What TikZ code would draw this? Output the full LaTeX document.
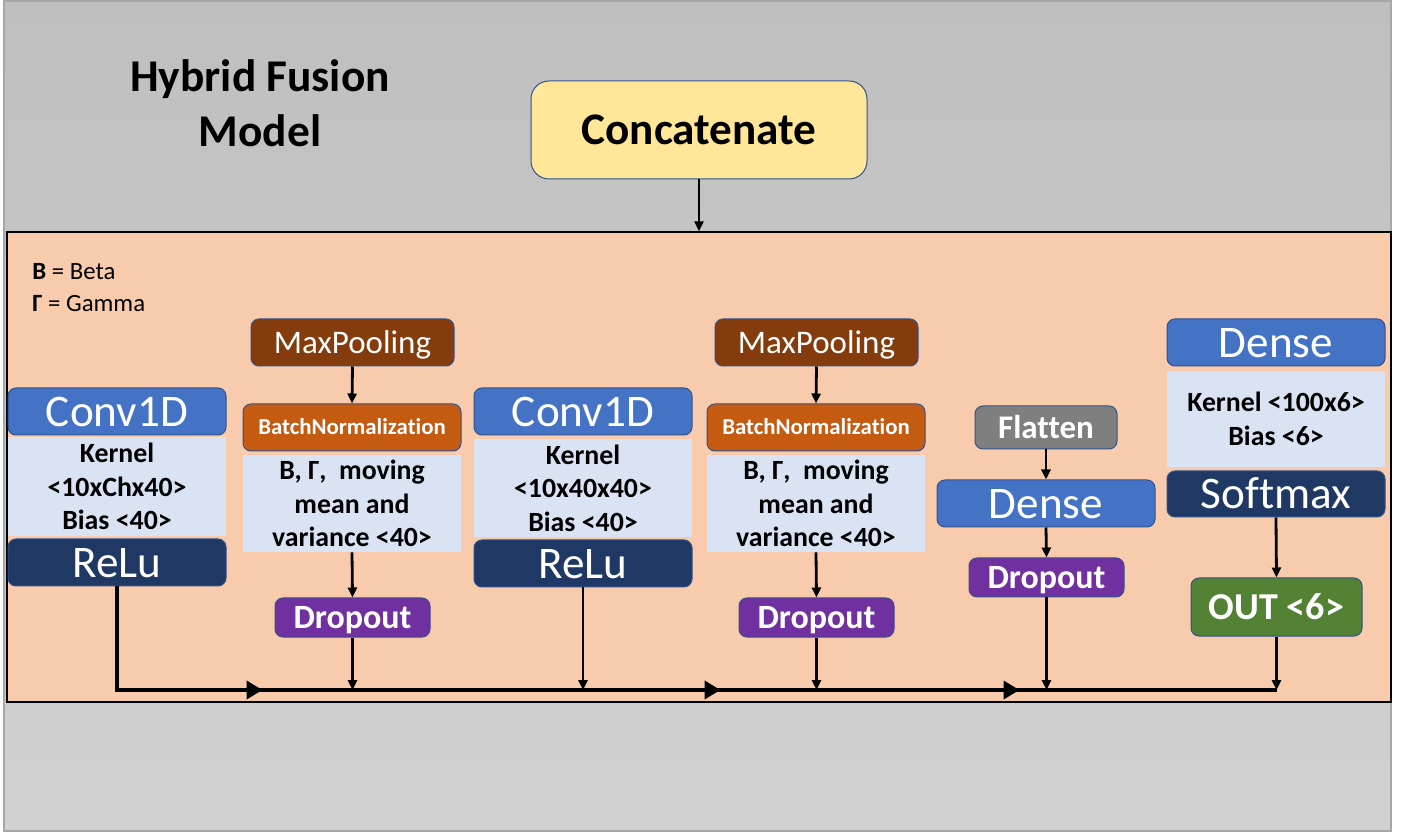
\documentclass[tikz,border=0pt]{standalone}
\usepackage{fontspec}
\setmainfont{Carlito}[Ligatures=NoCommon]
\usetikzlibrary{arrows.meta,decorations.markings}

\definecolor{bgtop}{HTML}{BFBFBF}
\definecolor{bgbot}{HTML}{D1D1D1}
\definecolor{bgedge}{HTML}{A6A6A6}
\definecolor{peach}{HTML}{F8CBAD}
\definecolor{convblue}{HTML}{4472C4}
\definecolor{navy}{HTML}{203864}
\definecolor{brown}{HTML}{843C0C}
\definecolor{rust}{HTML}{C55A11}
\definecolor{paramfill}{HTML}{DAE3F3}
\definecolor{violet}{HTML}{7030A0}
\definecolor{slate}{HTML}{7F7F7F}
\definecolor{leaf}{HTML}{548235}
\definecolor{butter}{HTML}{FFE699}
\definecolor{edgeblue}{HTML}{2F528F}

\begin{document}
\begin{tikzpicture}[x=0.5pt,y=-0.5pt,
  layer/.style={draw=edgeblue, line width=0.5pt, rounded corners=4pt,
    text=white, inner sep=0pt, align=center, text depth=0pt},
  wide/.style={layer, minimum width=109pt, minimum height=23.5pt,
    font=\fontsize{22.6}{24}\selectfont, text height=14.6pt},
  params/.style={fill=paramfill, inner sep=0pt, align=center, minimum width=109pt,
    font=\fontsize{13.9}{16.8}\selectfont\bfseries},
  drop/.style={layer, fill=violet, minimum width=77.5pt, minimum height=19.5pt,
    font=\fontsize{17}{18}\selectfont\bfseries, text height=11pt},
  pool/.style={layer, fill=brown, minimum width=101.5pt, minimum height=23.5pt,
    font=\fontsize{16.5}{18}\selectfont, text height=10.6pt},
  norm/.style={layer, fill=rust, minimum width=109pt, minimum height=23.5pt,
    font=\fontsize{11.4}{13}\selectfont\bfseries, text height=7.3pt},
  flow/.style={line width=1.4pt, -{Triangle[length=5pt,width=4.5pt]}},
  % thick collecting line with three direction marks along it
  bus/.style={line width=2pt, postaction={decorate}, decoration={markings,
    mark=at position 124.5pt with {\arrow{Triangle[length=8pt,width=9pt]}},
    mark=at position 353.5pt with {\arrow{Triangle[length=8pt,width=9pt]}},
    mark=at position 503pt with {\arrow{Triangle[length=8pt,width=9pt]}}}}
]
\useasboundingbox (0,0) rectangle (1405,834);

% backdrop and stage panel
\shade[top color=bgtop, bottom color=bgbot] (4,1) rectangle (1391,831);
\draw[bgedge, line width=0.8pt] (4,1) rectangle (1391,831);
\node[draw=black, line width=0.7pt, fill=peach, minimum width=692pt,
  minimum height=235pt, inner sep=0pt] (stage) at (699,467) {};

% title and input
\node[font=\fontsize{22.7}{27.5}\selectfont\bfseries, align=center] (title)
  at (260,103) {Hybrid Fusion\\Model};
\node[draw=edgeblue, line width=0.5pt, fill=butter, rounded corners=9pt,
  minimum width=168pt, minimum height=49pt, inner sep=0pt,
  text height=14.6pt, text depth=0pt,
  font=\fontsize{22.6}{24}\selectfont\bfseries] (concat) at (699,130) {Concatenate};
\draw[flow] (concat.south) -- (concat.south |- stage.north);

% legend
\node[anchor=west, align=left, inner sep=0pt, font=\fontsize{12.4}{16}\selectfont]
  (legend) at (32,288) {\textbf{B} = Beta\\\textbf{Γ} = Gamma};

% first convolution block
\node[wide, fill=convblue] (conv1) at (117,411.5) {Conv1D};
\node[params, minimum height=49.5pt] (ker1) at (117,486.5)
  {Kernel\\<10xChx40>\\Bias <40>};
\node[wide, fill=navy] (relu1) at (117,562.5) {ReLu};

\node[pool] (mp1) at (352.5,342.5) {MaxPooling};
\node[norm] (bn1) at (352,427.5) {BatchNormalization};
\node[params, minimum height=48.5pt] (bnp1) at (352,503.5)
  {B, Γ,~ moving\\mean and\\variance <40>};
\node[drop] (do1) at (352.5,617.5) {Dropout};

% second convolution block
\node[wide, fill=convblue] (conv2) at (583,411.5) {Conv1D};
\node[params, minimum height=49pt] (ker2) at (583,488)
  {Kernel\\<10x40x40>\\Bias <40>};
\node[wide, fill=navy] (relu2) at (583,563.5) {ReLu};

\node[pool] (mp2) at (816.5,342.5) {MaxPooling};
\node[norm] (bn2) at (816,427.5) {BatchNormalization};
\node[params, minimum height=48.5pt] (bnp2) at (816,503.5)
  {B, Γ,~ moving\\mean and\\variance <40>};
\node[drop] (do2) at (816.5,617.5) {Dropout};

% dense head
\node[layer, fill=slate, minimum width=71pt, minimum height=21.5pt,
  font=\fontsize{16.5}{18}\selectfont\bfseries, text height=10.6pt]
  (flat) at (1046,427.5) {Flatten};
\node[wide, fill=convblue] (dense1) at (1046,503.5) {Dense};
\node[drop] (do3) at (1046.5,577.5) {Dropout};

\node[wide, fill=convblue] (dense2) at (1276,342.5) {Dense};
\node[params, minimum height=48pt] (ker3) at (1276,419)
  {Kernel <100x6>\\Bias <6>};
\node[wide, fill=navy, minimum height=23pt] (soft) at (1276,494) {Softmax};
\node[layer, fill=leaf, minimum width=85.5pt, minimum height=29pt,
  font=\fontsize{19}{20}\selectfont\bfseries, text height=12.2pt]
  (out) at (1276.5,607) {OUT <6>};

% vertical links
\draw[flow] (mp1.south) -- (bn1.north);
\draw[flow] (bnp1.south) -- (do1.north);
\draw[flow] (mp2.south) -- (bn2.north);
\draw[flow] (bnp2.south) -- (do2.north);
\draw[flow] (flat.south) -- (dense1.north);
\draw[flow] (dense1.south) -- (do3.north);
\draw[flow] (soft.south) -- (out.north);

% collecting bus
\coordinate (busline) at (0,690);
\draw[bus] (relu1.south) |- (out.south |- busline);

\draw[flow] (do1.south) -- (do1.south |- busline);
\draw[flow] (relu2.south) -- (relu2.south |- busline);
\draw[flow] (do2.south) -- (do2.south |- busline);
\draw[flow] (do3.south) -- (do3.south |- busline);
\draw[flow] (out.south) -- (out.south |- busline);
\end{tikzpicture}
\end{document}
